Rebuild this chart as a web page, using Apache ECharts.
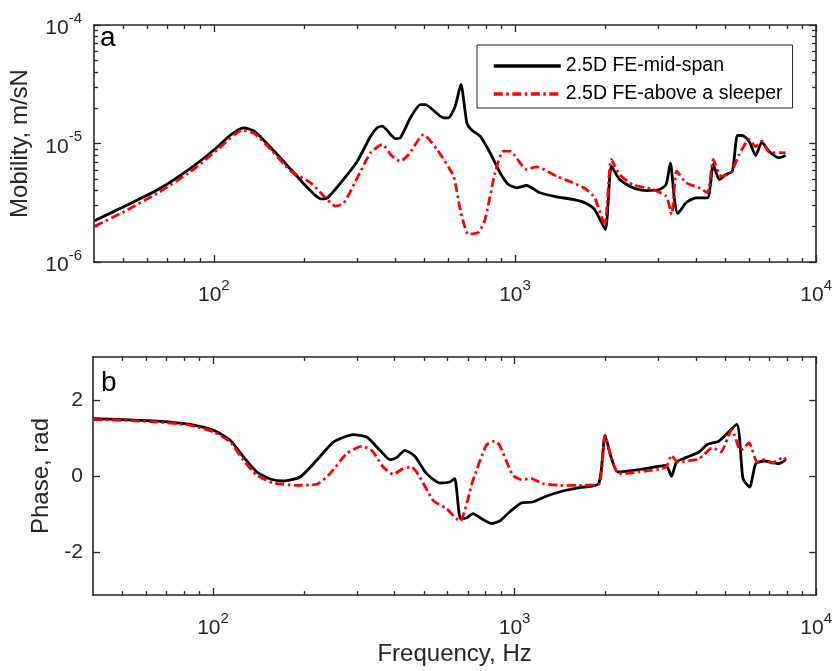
<!DOCTYPE html>
<html>
<head>
<meta charset="utf-8">
<script src="https://cdn.jsdelivr.net/npm/echarts@6/dist/echarts.min.js"></script>
<style>
  html, body { margin: 0; padding: 0; background: #fff; }
  #main { width: 835px; height: 671px; }
</style>
</head>
<body>
<div id="main"></div>
<script>
// --- data (frequency in Hz) ---
const freqMid = [40.2, 50.6, 65.3, 84.1, 100.5, 114.1, 125.6, 136.2, 154.7, 180.3, 204.6, 226.4, 238.4, 263.8, 299.5, 331.4, 348.7, 362.2, 400.9, 416.5, 449.5, 485, 503.8, 579.3, 601.8, 633.2, 661.4, 692.2, 719.2, 765.7, 826.4, 892.2, 950.2, 1013, 1093, 1210, 1374, 1559, 1727, 1839, 1995, 2089, 2225, 2462, 2728, 3018, 3176, 3281, 3384, 3470, 3698, 3991, 4360, 4553, 4766, 5014, 5273, 5477, 5690, 5989, 6302, 6597, 6974, 7526, 7920];
const mobilityMid = [2.23e-6, 2.96e-6, 4.09e-6, 6.24e-6, 8.9e-6, 1.19e-5, 1.357e-5, 1.27e-5, 9.2e-6, 6.03e-6, 4.23e-6, 3.41e-6, 3.48e-6, 4.66e-6, 7.09e-6, 1.152e-5, 1.357e-5, 1.40e-5, 1.10e-5, 1.117e-5, 1.648e-5, 2.13e-5, 2.13e-5, 1.648e-5, 1.648e-5, 2.06e-5, 3.15e-5, 1.495e-5, 1.295e-5, 1.152e-5, 8.35e-6, 5.66e-6, 4.51e-6, 4.23e-6, 4.42e-6, 3.84e-6, 3.55e-6, 3.37e-6, 3.12e-6, 2.77e-6, 1.88e-6, 6.43e-6, 4.97e-6, 4.23e-6, 4.01e-6, 4.09e-6, 4.51e-6, 6.87e-6, 3.37e-6, 2.57e-6, 3.16e-6, 3.48e-6, 3.48e-6, 6.65e-6, 4.97e-6, 5.47e-6, 5.84e-6, 1.168e-5, 1.168e-5, 1.046e-5, 7.92e-6, 1.026e-5, 8.61e-6, 7.57e-6, 7.92e-6];

const freqSleeper = [40.2, 50.6, 65.3, 84.1, 103, 124.7, 136.2, 154.7, 180.3, 209.8, 232.2, 253.9, 270.4, 299.5, 331.4, 362.2, 391, 416.5, 443.6, 497.4, 550.8, 625.1, 657.9, 700.7, 755.9, 795.5, 858.4, 914.9, 962.7, 1093, 1180, 1374, 1559, 1727, 1839, 1985, 2089, 2225, 2462, 2868, 3176, 3314, 3443, 3698, 4093, 4360, 4553, 4828, 5209, 5549, 5989, 6302, 6597, 6974, 7920];
const mobilitySleeper = [2.0e-6, 2.68e-6, 3.84e-6, 5.84e-6, 8.9e-6, 1.295e-5, 1.214e-5, 8.9e-6, 5.84e-6, 4.66e-6, 3.59e-6, 2.96e-6, 3.16e-6, 5.13e-6, 8.35e-6, 9.8e-6, 7.81e-6, 7.09e-6, 8.07e-6, 1.19e-5, 8.9e-6, 5.3e-6, 2.77e-6, 1.71e-6, 1.78e-6, 2.28e-6, 5.66e-6, 8.61e-6, 8.61e-6, 6.03e-6, 6.36e-6, 5.3e-6, 4.66e-6, 4.09e-6, 3.48e-6, 2.07e-6, 7.33e-6, 5.47e-6, 4.51e-6, 4.09e-6, 3.59e-6, 2.52e-6, 5.84e-6, 4.66e-6, 4.23e-6, 3.84e-6, 7.33e-6, 5.3e-6, 5.66e-6, 8.07e-6, 1.081e-5, 9.38e-6, 1.046e-5, 8.45e-6, 8.35e-6];

const phaseFreqMid = [40.2, 50.6, 65.3, 84.1, 100.5, 114.1, 126.2, 139.8, 154.7, 171.3, 194.5, 220.8, 250.6, 291.9, 323.2, 357.7, 386, 406.2, 432.6, 466.9, 510.6, 564.9, 609.5, 633.2, 661.4, 692.2, 727.8, 775.9, 837.3, 892.2, 962.7, 1052, 1150, 1273, 1445, 1641, 1901, 1995, 2089, 2197, 2592, 3176, 3314, 3443, 3698, 4093, 4360, 4766, 5453, 5720, 6021, 6302, 6714, 7526, 7920];
const phaseMid = [1.515, 1.488, 1.451, 1.364, 1.206, 0.942, 0.501, 0.106, -0.079, -0.132, -0.026, 0.414, 0.897, 1.092, 1.029, 0.678, 0.433, 0.485, 0.678, 0.52, 0.063, -0.185, -0.158, -0.069, -1.124, -1.108, -0.992, -1.124, -1.256, -1.187, -0.95, -0.712, -0.686, -0.536, -0.396, -0.306, -0.201, 1.074, 0.501, 0.106, 0.169, 0.282, -0.008, 0.369, 0.485, 0.633, 0.836, 0.923, 1.364, -0.069, -0.29, 0.327, 0.396, 0.327, 0.433];

const phaseFreqSleeper = [40.2, 50.6, 65.3, 84.1, 100.5, 114.1, 126.2, 139.8, 158.7, 189.6, 220.8, 244.3, 277.6, 311.1, 335.7, 366.8, 395.7, 427, 455.2, 485, 536.6, 594.5, 657.9, 727.8, 806, 858.4, 892.2, 987, 1052, 1136, 1241, 1409, 1641, 1901, 1995, 2089, 2213, 2592, 3176, 3314, 3470, 4093, 4529, 4828, 5249, 5621, 5989, 6380, 6714, 7151, 7817, 7920];
const phaseSleeper = [1.488, 1.47, 1.425, 1.338, 1.161, 0.897, 0.414, 0.018, -0.185, -0.245, -0.219, 0.063, 0.591, 0.784, 0.678, 0.237, 0.045, 0.195, 0.237, -0.026, -0.641, -0.86, -1.195, -0.113, 0.81, 0.923, 0.81, 0.018, -0.095, -0.069, -0.201, -0.245, -0.245, -0.219, 1.074, 0.501, 0.063, 0.106, 0.237, 0.546, 0.369, 0.459, 0.749, 0.633, 1.224, 0.678, 0.871, 0.369, 0.433, 0.343, 0.501, 0.414];

const seriesNames = ['2.5D FE-mid-span', '2.5D FE-above a sleeper'];

// tick positions
const freqMajorTicks = [100, 1000, 10000];
const freqMinorTicks = [50, 60, 70, 80, 90, 200, 300, 400, 500, 600, 700, 800, 900, 2000, 3000, 4000, 5000, 6000, 7000, 8000, 9000];
const mobMajorTicks = [1e-6, 1e-5, 1e-4];
const mobMinorTicks = [2e-6, 3e-6, 4e-6, 5e-6, 6e-6, 7e-6, 8e-6, 9e-6, 2e-5, 3e-5, 4e-5, 5e-5, 6e-5, 7e-5, 8e-5, 9e-5];
const phaseTicks = [-2, 0, 2];

const FREQ_MIN = 40, FREQ_MAX = 10000;
const MOB_MIN = 1e-6, MOB_MAX = 1e-4;

const AXIS_COLOR = '#262626';
const FONT = '"Liberation Sans", Arial, sans-serif';
const lg = arr => arr.map(v => Math.log10(v));
const zip = (xs, ys) => xs.map((x, i) => [x, ys[i]]);

// tick-only axes drawn in log10 units on top of the hidden log axes
function tickAxis(gridIndex, position, min, max, ticks, len, showLine) {
    return {
        type: 'value', gridIndex: gridIndex, position: position, min: min, max: max,
        axisLine: { show: showLine, onZero: false, lineStyle: { color: AXIS_COLOR, width: 1.6 } },
        axisTick: { show: true, inside: true, length: len, customValues: ticks, lineStyle: { color: AXIS_COLOR, width: 1.3 } },
        axisLabel: { show: false },
        splitLine: { show: false }
    };
}

const powLabel = {
    fontSize: 21, color: AXIS_COLOR, fontFamily: FONT,
    formatter: v => '{b|10}{sup|' + Math.round(v) + '}',
    rich: {
        b: { fontSize: 21, verticalAlign: 'bottom', fontFamily: FONT, color: AXIS_COLOR },
        sup: { fontSize: 15, verticalAlign: 'top', fontFamily: FONT, color: AXIS_COLOR, padding: [0, 0, 13, 0] }
    }
};
const nameStyle = { fontSize: 24, color: AXIS_COLOR, fontFamily: FONT };

const lgFmin = Math.log10(FREQ_MIN), lgFmax = Math.log10(FREQ_MAX);
const lgMmin = Math.log10(MOB_MIN), lgMmax = Math.log10(MOB_MAX);

function freqAxes(gridIndex, withName) {
    const bottom = tickAxis(gridIndex, 'bottom', lgFmin, lgFmax, lg(freqMajorTicks), 7, true);
    bottom.axisLabel = Object.assign({ show: true, customValues: lg(freqMajorTicks), margin: 16 }, powLabel);
    if (withName) {
        bottom.name = 'Frequency, Hz';
        bottom.nameLocation = 'middle';
        bottom.nameGap = 47;
        bottom.nameTextStyle = nameStyle;
    }
    return [
        { type: 'log', gridIndex: gridIndex, min: FREQ_MIN, max: FREQ_MAX, show: false },
        bottom,
        tickAxis(gridIndex, 'bottom', lgFmin, lgFmax, lg(freqMinorTicks), 4, false),
        tickAxis(gridIndex, 'top', lgFmin, lgFmax, lg(freqMajorTicks), 7, true),
        tickAxis(gridIndex, 'top', lgFmin, lgFmax, lg(freqMinorTicks), 4, false)
    ];
}

const mobLeft = tickAxis(0, 'left', lgMmin, lgMmax, lg(mobMajorTicks), 7, true);
mobLeft.axisLabel = Object.assign({ show: true, customValues: lg(mobMajorTicks), margin: 12 }, powLabel);
mobLeft.name = 'Mobility, m/sN';
mobLeft.nameLocation = 'middle';
mobLeft.nameGap = 62;
mobLeft.nameTextStyle = nameStyle;

const phaseLeft = {
    type: 'value', gridIndex: 1, position: 'left', min: -Math.PI, max: Math.PI,
    axisLine: { show: true, onZero: false, lineStyle: { color: AXIS_COLOR, width: 1.6 } },
    axisTick: { show: true, inside: true, length: 7, customValues: phaseTicks, lineStyle: { color: AXIS_COLOR, width: 1.3 } },
    axisLabel: { show: true, customValues: phaseTicks, fontSize: 21, color: AXIS_COLOR, fontFamily: FONT, margin: 10 },
    splitLine: { show: false },
    name: 'Phase, rad', nameLocation: 'middle', nameGap: 40,
    nameTextStyle: nameStyle
};
const phaseRight = tickAxis(1, 'right', -Math.PI, Math.PI, phaseTicks, 7, true);

const solid = { color: '#000', width: 2.8, type: 'solid' };
const dashDot = { color: '#ff0000', width: 2.8, type: [9, 3.5, 2.5, 3.5] };

function lineSeries(name, data, xi, yi, style) {
    return {
        name: name, type: 'line', xAxisIndex: xi, yAxisIndex: yi, data: data,
        showSymbol: false, symbol: 'none', smooth: 0.2,
        lineStyle: style, itemStyle: { color: style.color }, emphasis: { disabled: true }
    };
}

const option = {
    animation: false,
    backgroundColor: '#fff',
    textStyle: { fontFamily: FONT },
    title: [
        { text: 'a', left: 100, top: 24, padding: 0, textStyle: { fontSize: 28, fontWeight: 'normal', color: '#000', fontFamily: FONT } },
        { text: 'b', left: 101, top: 369, padding: 0, textStyle: { fontSize: 28, fontWeight: 'normal', color: '#000', fontFamily: FONT } }
    ],
    legend: {
        data: seriesNames, orient: 'vertical', left: 477, top: 45,
        padding: [9, 10, 2, 15], itemGap: 4, itemWidth: 67, itemHeight: 3, itemTextGap: 6,
        borderColor: AXIS_COLOR, borderWidth: 1, backgroundColor: '#fff',
        selectedMode: false,
        itemStyle: { opacity: 0 },
        lineStyle: { width: 3.6 },
        textStyle: { fontSize: 19.5, lineHeight: 24, color: '#000', fontFamily: FONT }
    },
    grid: [
        { left: 93, top: 25, width: 724, height: 237 },
        { left: 93, top: 357, width: 724, height: 238 }
    ],
    xAxis: freqAxes(0, false).concat(freqAxes(1, true)),
    yAxis: [
        { type: 'log', gridIndex: 0, min: MOB_MIN, max: MOB_MAX, show: false },
        mobLeft,
        tickAxis(0, 'left', lgMmin, lgMmax, lg(mobMinorTicks), 4, false),
        tickAxis(0, 'right', lgMmin, lgMmax, lg(mobMajorTicks), 7, true),
        tickAxis(0, 'right', lgMmin, lgMmax, lg(mobMinorTicks), 4, false),
        phaseLeft,
        phaseRight
    ],
    series: [
        lineSeries(seriesNames[0], zip(freqMid, mobilityMid), 0, 0, solid),
        lineSeries(seriesNames[1], zip(freqSleeper, mobilitySleeper), 0, 0, dashDot),
        lineSeries(seriesNames[0], zip(phaseFreqMid, phaseMid), 5, 5, solid),
        lineSeries(seriesNames[1], zip(phaseFreqSleeper, phaseSleeper), 5, 5, dashDot)
    ]
};

const myChart = echarts.init(document.getElementById('main'));
myChart.setOption(option);
</script>
</body>
</html>
